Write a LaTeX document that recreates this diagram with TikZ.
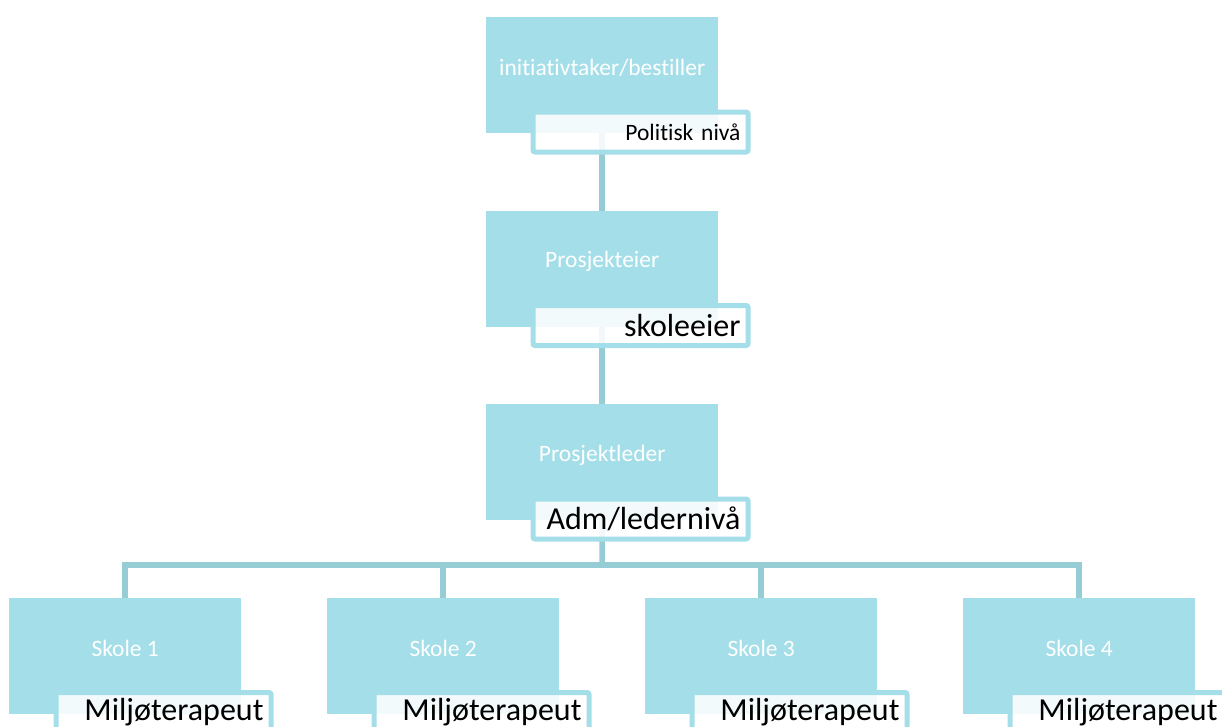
\documentclass[tikz,border=0pt]{standalone}
\usepackage{fontspec}
\setmainfont{Carlito}[Ligatures=NoCommon]
\usetikzlibrary{calc,backgrounds}
\definecolor{boxblue}{HTML}{A4DEE8}
\definecolor{connblue}{HTML}{96CCD4}
\begin{document}
\begin{tikzpicture}[x=1pt,y=-1pt,
  box/.style={fill=boxblue, minimum width=232pt, minimum height=116pt, anchor=north west, inner sep=0pt},
  maintext/.style={text=white, font=\fontsize{23.5}{28}\selectfont, inner sep=0pt},
  subbox/.style={draw=boxblue, line width=5pt, fill=white, fill opacity=0.88, text opacity=1,
    rounded corners=2pt, anchor=north west, minimum height=40pt, text width=200pt,
    inner xsep=7.5pt, inner ysep=0pt, align=right, text=black},
  subsmall/.style={subbox, font=\fontsize{23.5}{28}\selectfont},
  sublarge/.style={subbox, font=\fontsize{32}{36}\selectfont},
  conn/.style={draw=connblue, line width=5.5pt}]
\useasboundingbox (0,0) rectangle (1222,726);
\clip (0,0) rectangle (1222,726);
% main boxes
\node[box] (a) at (486,17) {};
\node[box] (b) at (486,210.5) {};
\node[box] (c) at (486,404) {};
\node[box] (s1) at (9,597.5) {};
\node[box] (s2) at (327,597.5) {};
\node[box] (s3) at (645,597.5) {};
\node[box] (s4) at (963,597.5) {};
% main texts
\node[maintext] (ta) at ($(a.north)+(0,51)$) {initiativtaker/bestiller};
\node[maintext] (tb) at ($(b.north)+(0,51)$) {Prosjekteier};
\node[maintext] (tc) at ($(c.north)+(0,51)$) {Prosjektleder};
\node[maintext] (t1) at ($(s1.north)+(0,51)$) {Skole 1};
\node[maintext] (t2) at ($(s2.north)+(0,51)$) {Skole 2};
\node[maintext] (t3) at ($(s3.north)+(0,51)$) {Skole 3};
\node[maintext] (t4) at ($(s4.north)+(0,51)$) {Skole 4};
% subtitle boxes
\node[subsmall] (pa) at ($(a.north west)+(44.5,92.5)$) {Politisk nivå};
\node[sublarge] (pb) at ($(b.north west)+(44.5,92.5)$) {skoleeier};
\node[sublarge] (pc) at ($(c.north west)+(44.5,92.5)$) {Adm/ledernivå};
\node[sublarge] (p1) at ($(s1.north west)+(44.5,92.5)$) {Miljøterapeut};
\node[sublarge] (p2) at ($(s2.north west)+(44.5,92.5)$) {Miljøterapeut};
\node[sublarge] (p3) at ($(s3.north west)+(44.5,92.5)$) {Miljøterapeut};
\node[sublarge] (p4) at ($(s4.north west)+(44.5,92.5)$) {Miljøterapeut};
% connectors
\coordinate (bus) at (602,565);
\begin{pgfonlayer}{background}
\draw[conn] (a.south) -- (b.north);
\draw[conn] (b.south) -- (c.north);
\draw[conn] (c.south) -- (bus);
\draw[conn] (s1.north) |- (bus) -| (s4.north);
\draw[conn] (s2.north) -- (s2.north |- bus);
\draw[conn] (s3.north) -- (s3.north |- bus);
\end{pgfonlayer}
\end{tikzpicture}
\end{document}
